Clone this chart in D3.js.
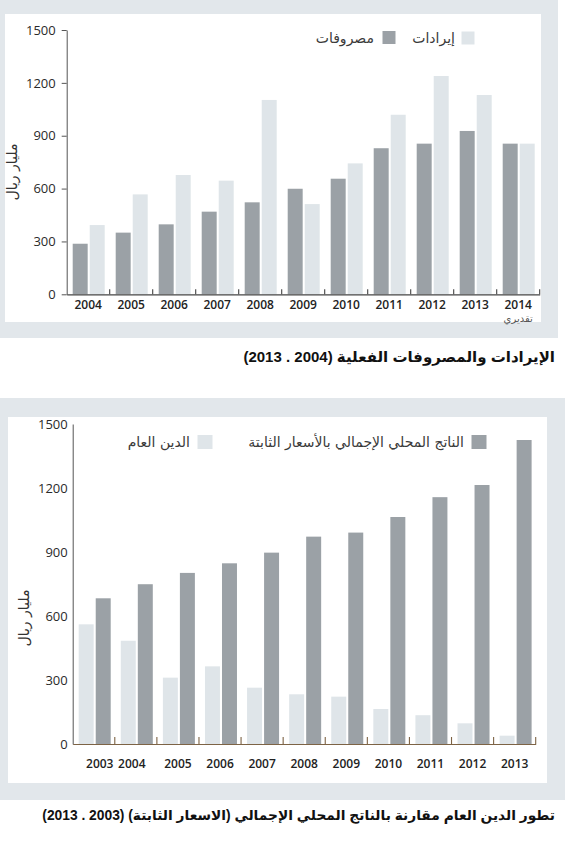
<!DOCTYPE html>
<html>
<head>
<meta charset="utf-8">
<script src="https://cdn.jsdelivr.net/npm/d3@7"></script>
<style>
  body { margin: 0; background: #fff; }
  svg { display: block; }
</style>
</head>
<body>
<div id="chart"></div>
<script>
// Revenues vs expenditures (billion riyals)
const budgetYears = ['2004', '2005', '2006', '2007', '2008', '2009', '2010', '2011', '2012', '2013', '2014'];
const expenses = [287, 350, 397, 469, 522, 599, 656, 829, 855, 927, 855];
const revenues = [393, 567, 677, 645, 1103, 512, 743, 1019, 1239, 1131, 855];

// Public debt vs GDP at constant prices (billion riyals)
const debtYears = ['2003', '2004', '2005', '2006', '2007', '2008', '2009', '2010', '2011', '2012', '2013'];
const publicDebt = [561, 484, 311, 364, 264, 233, 222, 164, 135, 97, 39];
const gdpConstant = [683, 749, 802, 847, 897, 972, 991, 1064, 1157, 1214, 1425];

const yTicks = [0, 300, 600, 900, 1200, 1500];

const darkGrey = '#9ba1a6';
const lightGrey = '#dfe5e9';
const panelGrey = '#e2e7eb';
const arabicFont = '"DejaVu Sans", sans-serif';
const numFont = '"Open Sans", "DejaVu Sans", sans-serif';

const svg = d3.select('#chart')
  .append('svg')
  .attr('width', 570)
  .attr('height', 841);

function drawChart(o) {
  // grey frame and white card
  svg.append('rect')
    .attr('x', o.frame[0]).attr('y', o.frame[1])
    .attr('width', o.frame[2]).attr('height', o.frame[3])
    .attr('fill', panelGrey);
  svg.append('rect')
    .attr('x', o.card[0]).attr('y', o.card[1])
    .attr('width', o.card[2]).attr('height', o.card[3])
    .attr('fill', '#fff');

  const x = d3.scaleBand()
    .domain(o.years)
    .range([o.left, o.right]);

  const y = d3.scaleLinear()
    .domain([0, 1500])
    .range([o.bottom, o.top]);

  // two bars inside each year band
  const sub = d3.scaleBand()
    .domain([0, 1])
    .range([6, 38])
    .paddingInner(0.12);

  const rows = o.years.map((yr, i) => ({ yr: yr, v: [o.first[i], o.second[i]] }));

  const groups = svg.append('g')
    .selectAll('g')
    .data(rows)
    .enter()
    .append('g')
    .attr('transform', d => 'translate(' + x(d.yr) + ',0)');

  groups.selectAll('rect')
    .data(d => d.v.map((v, k) => ({ k: k, v: v })))
    .enter()
    .append('rect')
    .attr('x', d => sub(d.k))
    .attr('width', sub.bandwidth())
    .attr('y', d => y(d.v))
    .attr('height', d => o.bottom - y(d.v))
    .attr('fill', d => o.colors[d.k]);

  // y axis
  const yAxis = svg.append('g')
    .attr('transform', 'translate(' + o.left + ',0)')
    .call(d3.axisLeft(y)
      .tickValues(yTicks)
      .tickFormat(d3.format('d'))
      .tickSize(o.yTick)
      .tickSizeOuter(0)
      .tickPadding(o.yPad));
  yAxis.select('.domain').attr('stroke', '#555');
  yAxis.selectAll('line').attr('stroke', '#555');
  yAxis.selectAll('text')
    .style('font-family', numFont)
    .style('font-size', '13px')
    .attr('fill', '#2a2a2a');

  // x axis
  const xAxis = svg.append('g')
    .attr('transform', 'translate(0,' + o.bottom + ')')
    .call(d3.axisBottom(x).tickSize(0).tickPadding(o.xPad));
  xAxis.select('.domain').attr('stroke', o.axisColor).attr('stroke-width', 1.2);
  xAxis.selectAll('text')
    .style('font-family', numFont)
    .style('font-size', '12px')
    .style('font-weight', 600)
    .attr('fill', '#222')
    .attr('dx', d => (o.labelShift[d] || 0));

  // small upward ticks between the years
  xAxis.selectAll('.sep')
    .data(o.years)
    .enter()
    .append('line')
    .attr('class', 'sep')
    .attr('x1', d => x(d) + x.step())
    .attr('x2', d => x(d) + x.step())
    .attr('y1', 0)
    .attr('y2', -o.sepHeight)
    .attr('stroke', o.axisColor)
    .attr('stroke-width', 1.1);

  // y axis title
  svg.append('text')
    .attr('transform', 'translate(' + o.yTitle[0] + ',' + o.yTitle[1] + ') rotate(-90)')
    .attr('text-anchor', 'middle')
    .style('font-family', arabicFont)
    .style('font-size', '14px')
    .attr('fill', '#333')
    .text('مليار ريال');

  // legend (right to left)
  o.legend.forEach(l => {
    svg.append('rect')
      .attr('x', l.box[0]).attr('y', l.box[1])
      .attr('width', l.box[2]).attr('height', l.box[3])
      .attr('fill', o.colors[l.k]);
    svg.append('text')
      .attr('x', l.textX)
      .attr('y', l.textY)
      .attr('direction', 'rtl')
      .attr('text-anchor', 'start')
      .style('font-family', arabicFont)
      .style('font-size', '14px')
      .attr('fill', '#3a3a3a')
      .text(l.label);
  });

  // caption below the frame
  svg.append('text')
    .attr('x', o.caption[0])
    .attr('y', o.caption[1])
    .attr('direction', 'rtl')
    .attr('text-anchor', 'start')
    .style('font-family', '"Liberation Sans", "DejaVu Sans", sans-serif')
    .style('font-size', o.captionSize)
    .style('font-weight', 'bold')
    .attr('fill', '#111')
    .text(o.captionText);

  return x;
}

// Top chart
const xTop = drawChart({
  frame: [0, 0, 558, 338],
  card: [5, 14, 536, 308],
  left: 66.7, right: 539.7, top: 30, bottom: 294.3,
  years: budgetYears,
  first: expenses, second: revenues,
  colors: [darkGrey, lightGrey],
  yTick: 5, yPad: 6,
  xPad: 6,
  axisColor: '#444',
  sepHeight: 5,
  labelShift: {},
  yTitle: [17, 172],
  legend: [
    { k: 1, box: [461.5, 31.5, 13, 13], textX: 455, textY: 43, label: 'إيرادات' },
    { k: 0, box: [382.5, 31, 13, 13], textX: 374, textY: 43, label: 'مصروفات' }
  ],
  caption: [555, 362],
  captionSize: '15px',
  captionText: 'الإيرادات والمصروفات الفعلية (2004 . 2013)'
});

// "estimated" note under 2014
svg.append('text')
  .attr('x', xTop('2014') + xTop.bandwidth() / 2)
  .attr('y', 322)
  .attr('text-anchor', 'middle')
  .style('font-family', arabicFont)
  .style('font-size', '10px')
  .attr('fill', '#555')
  .text('تقديري');

// Bottom chart
drawChart({
  frame: [0, 398, 565, 402],
  card: [8, 417, 539, 366],
  left: 72.7, right: 535.7, top: 424, bottom: 744,
  years: debtYears,
  first: publicDebt, second: gdpConstant,
  colors: [lightGrey, darkGrey],
  yTick: 0, yPad: 5,
  xPad: 15,
  axisColor: '#7d6345',
  sepHeight: 7,
  labelShift: { '2003': 6, '2004': -4 },
  yTitle: [29, 618],
  legend: [
    { k: 0, box: [197.5, 435, 15, 14], textX: 190, textY: 447, label: 'الدين العام' },
    { k: 1, box: [471.5, 435, 15, 14], textX: 464, textY: 447, label: 'الناتج المحلي الإجمالي بالأسعار الثابتة' }
  ],
  caption: [555, 820],
  captionSize: '13.8px',
  captionText: 'تطور الدين العام مقارنة بالناتج المحلي الإجمالي (الاسعار الثابتة) (2003 . 2013)'
});
</script>
</body>
</html>
